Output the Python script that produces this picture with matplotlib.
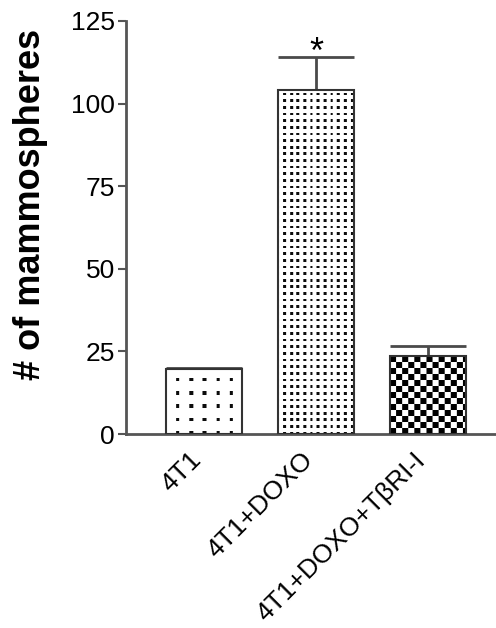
import numpy as np
import matplotlib
matplotlib.use("Agg")
import matplotlib.pyplot as plt
import matplotlib.transforms as mtransforms

# ---- data ----
categories = ["4T1", "4T1+DOXO", "4T1+DOXO+TβRI-I"]
means = [19.6, 104.1, 23.6]
err_upper = [0.3, 10.0, 2.9]
yticks = [0, 25, 50, 75, 100, 125]
ylabel = "# of mammospheres"
sig_marks = ["", "*", ""]

plt.rcParams['font.family'] = ['Liberation Sans', 'DejaVu Sans']

W, H, DPI = 4.96, 6.28, 100
fig = plt.figure(figsize=(W, H), dpi=DPI)
ax = fig.add_axes([126/496, 1-434/628, (496-126)/496, (434-21)/628])

x = np.arange(len(categories))
bw = 0.68
ax.set_xlim(-0.696, 2.607)
ax.set_ylim(0, 125)

bars = ax.bar(x, means, width=bw, facecolor='none', edgecolor='#333333',
              linewidth=1.5, zorder=3)

def pattern(wpx, hpx, kind):
    yy, xx = np.mgrid[0:hpx, 0:wpx].astype(float)
    arr = np.ones((hpx, wpx))
    if kind == 'sparse':
        s, d = 13.3, 3.4
        arr[((xx + 4) % s < d) & ((yy + 1) % s < d)] = 0.05
    elif kind == 'dense':
        s, d = 6.65, 2.7
        arr[((xx + 2) % s < d) & ((yy + 1) % s < d)] = 0.05
    else:
        c = 6.0
        arr[((np.floor(xx / c) + np.floor(yy / c)) % 2) == 0] = 0.0
    return arr

kinds = ['sparse', 'dense', 'check']
for b, k in zip(bars, kinds):
    x0, x1 = b.get_x(), b.get_x() + b.get_width()
    h = b.get_height()
    p0 = ax.transData.transform((x0, 0))
    p1 = ax.transData.transform((x1, h))
    wpx = int(round(p1[0] - p0[0]))
    hpx = int(round(p1[1] - p0[1]))
    img = pattern(wpx, hpx, k)
    ax.imshow(img, extent=(x0, x1, 0, h), origin='lower', cmap='gray',
              vmin=0, vmax=1, aspect='auto', interpolation='bilinear', zorder=2)

ax.errorbar(x, means, yerr=[np.zeros(len(means)), err_upper], fmt='none',
            ecolor='#4a4a4a', elinewidth=2.0, capsize=27.4, capthick=2.0, zorder=1)

for xi, m, e, s in zip(x, means, err_upper, sig_marks):
    if s:
        ax.annotate(s, xy=(xi, m + e), xytext=(0, -4), textcoords='offset points',
                    ha='center', va='baseline', fontsize=26)

ax.set_aspect('auto')
ax.set_xlim(-0.696, 2.607)
ax.set_ylim(0, 125)

for sp in ['top', 'right']:
    ax.spines[sp].set_visible(False)
for sp in ['left', 'bottom']:
    ax.spines[sp].set_color('#555555')
    ax.spines[sp].set_linewidth(2.0)

ax.set_yticks(yticks)
ax.set_yticklabels([str(t) for t in yticks], fontsize=19)
ax.tick_params(axis='y', length=6, width=1.5, color='#555555', pad=2)
ax.set_xticks(x)
ax.set_xticklabels(categories, rotation=45, ha='right', rotation_mode='anchor',
                   fontsize=19)
ax.tick_params(axis='x', length=0, pad=10)
shift = mtransforms.ScaledTranslation(-15/DPI, 0, fig.dpi_scale_trans)
for lab in ax.get_xticklabels():
    lab.set_transform(lab.get_transform() + shift)

ax.set_ylabel(ylabel, fontsize=26, fontweight='bold')
ax.yaxis.set_label_coords(-0.21, 0.557)

fig.savefig("out.png", dpi=DPI)
